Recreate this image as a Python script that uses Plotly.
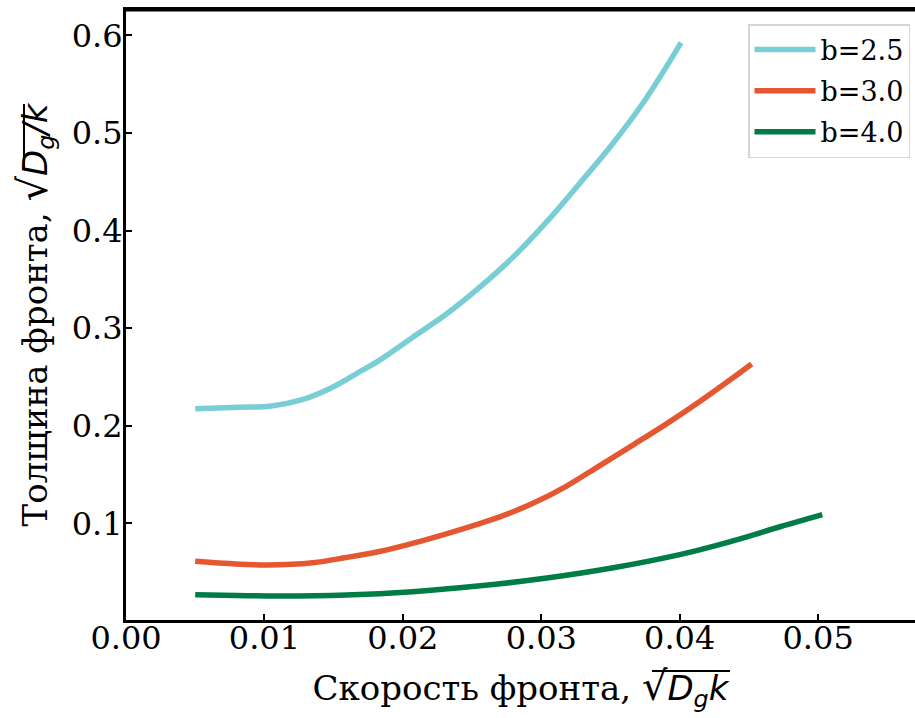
import plotly.graph_objects as go

# ---- data ----
x_b25 = [0.0050, 0.0082, 0.0104, 0.0126, 0.0147, 0.0169, 0.0183, 0.0207, 0.0232, 0.0256,
         0.0280, 0.0304, 0.0328, 0.0352, 0.0376, 0.0401]
y_b25 = [0.2175, 0.2190, 0.2200, 0.2262, 0.2380, 0.2555, 0.2670, 0.2905, 0.3150, 0.3425,
         0.3733, 0.4091, 0.4488, 0.4898, 0.5359, 0.5925]

x_b30 = [0.0050, 0.0075, 0.0102, 0.0135, 0.0159, 0.0183, 0.0207, 0.0232, 0.0256, 0.0270,
         0.0294, 0.0318, 0.0342, 0.0367, 0.0391, 0.0415, 0.0439, 0.0452]
y_b30 = [0.0612, 0.0588, 0.0574, 0.0597, 0.0650, 0.0712, 0.0796, 0.0896, 0.1001, 0.1066,
         0.1206, 0.1380, 0.1590, 0.1810, 0.2025, 0.2254, 0.2497, 0.2633]

x_b40 = [0.0050, 0.0080, 0.0111, 0.0159, 0.0207, 0.0256, 0.0304, 0.0352, 0.0400, 0.0424,
         0.0448, 0.0473, 0.0503]
y_b40 = [0.0269, 0.0261, 0.0256, 0.0266, 0.0300, 0.0360, 0.0440, 0.0545, 0.0680, 0.0765,
         0.0860, 0.0968, 0.1090]

series = [
    ("b=2.5", x_b25, y_b25, "#79CED6"),
    ("b=3.0", x_b30, y_b30, "#E45730"),
    ("b=4.0", x_b40, y_b40, "#007D45"),
]

x_ticks = [0.00, 0.01, 0.02, 0.03, 0.04, 0.05]
x_ticklabels = ["0.00", "0.01", "0.02", "0.03", "0.04", "0.05"]
y_ticks = [0.1, 0.2, 0.3, 0.4, 0.5, 0.6]
y_ticklabels = ["0.1", "0.2", "0.3", "0.4", "0.5", "0.6"]

x_title = ("Скорость фронта, <span style='font-family:\"DejaVu Sans\"'>"
           "<span style='font-size:40px'>√</span>"
           "<i>D</i><sub><i>g</i></sub><i>k</i></span>")
y_title = ("Толщина фронта, <span style='font-family:\"DejaVu Sans\"'>"
           "<span style='font-size:40px'>√</span>"
           "<i>D</i><sub><i>g</i></sub><i>/k</i></span>")

W, H = 915, 718
ML, MR, MT, MB = 126, 0, 10, 98
PW, PH = W - ML - MR, H - MT - MB


def px2paper_x(px):
    return (px - ML) / PW


def px2paper_y(py):
    return (H - MB - py) / PH


fig = go.Figure()
for name, xs, ys, col in series:
    fig.add_trace(go.Scatter(x=xs, y=ys, mode="lines", name=name, legendgroup=name,
                             line=dict(color=col, width=5.5, shape="spline", smoothing=1.0)))

serif = "DejaVu Serif"
fig.update_layout(
    width=W, height=H,
    margin=dict(l=ML, r=MR, t=MT, b=MB, autoexpand=False),
    paper_bgcolor="white", plot_bgcolor="white",
    font=dict(family=serif, color="black", size=32),
    showlegend=True,
    legend=dict(x=px2paper_x(910), y=px2paper_y(24), xanchor="right", yanchor="top",
                bgcolor="white", bordercolor="#d5d5d5", borderwidth=1.5,
                font=dict(family=serif, size=27), tracegroupgap=3, itemwidth=61),
    xaxis=dict(range=[0, 0.057], tickvals=x_ticks, ticktext=x_ticklabels,
               ticks="inside", ticklen=6, tickwidth=1.5, tickcolor="black",
               showline=True, linecolor="black", linewidth=3, mirror=True,
               showgrid=False, zeroline=False, automargin=False,
               ticklabelstandoff=-12,
               tickfont=dict(family=serif, size=32),
               title=dict(text=x_title, font=dict(family=serif, size=34), standoff=20)),
    yaxis=dict(range=[0.001, 0.626], tickvals=y_ticks, ticktext=y_ticklabels,
               ticks="inside", ticklen=6, tickwidth=1.5, tickcolor="black",
               showline=True, linecolor="black", linewidth=3, mirror=False,
               showgrid=False, zeroline=False, automargin=False,
               ticklabelstandoff=-6,
               tickfont=dict(family=serif, size=32),
               title=dict(text=y_title, font=dict(family=serif, size=34), standoff=14)),
)
# top spine
fig.add_shape(type="line", xref="paper", yref="paper", x0=0, x1=1, y0=1, y1=1,
              line=dict(color="black", width=3))
# vinculum of the square roots in the axis titles
fig.add_shape(type="line", xref="paper", yref="paper",
              x0=px2paper_x(652), x1=px2paper_x(730), y0=px2paper_y(671), y1=px2paper_y(671),
              line=dict(color="black", width=2))
fig.add_shape(type="line", xref="paper", yref="paper",
              x0=px2paper_x(24), x1=px2paper_x(24), y0=px2paper_y(170), y1=px2paper_y(104),
              line=dict(color="black", width=2))

fig.write_html("out.html", config={"displayModeBar": False},
               post_script="document.body.style.margin='0';")
